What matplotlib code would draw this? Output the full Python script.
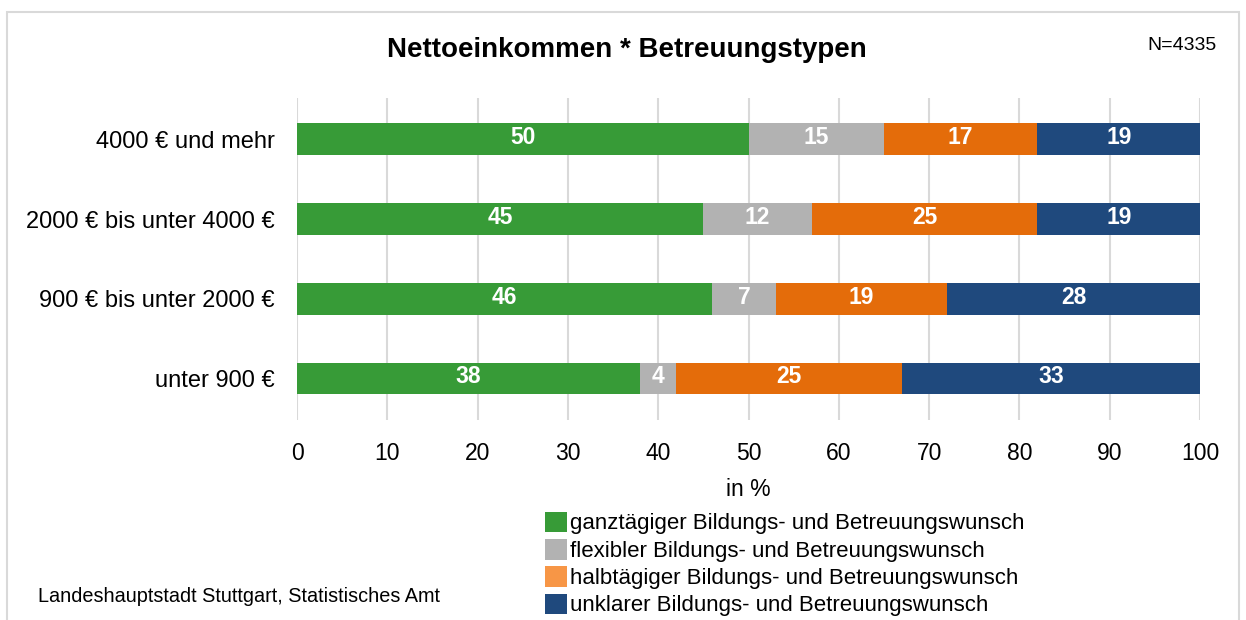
import numpy as np
import matplotlib.pyplot as plt
from matplotlib.patches import Rectangle, Patch

plt.rcParams['font.family'] = ['Liberation Sans', 'DejaVu Sans']

kategorien = ['unter 900 €', '900 € bis unter 2000 €', '2000 € bis unter 4000 €', '4000 € und mehr']
ganztaegig = [38, 46, 45, 50]
flexibel = [4, 7, 12, 15]
halbtaegig = [25, 19, 25, 17]
unklar = [33, 28, 19, 19]

serien = ['ganztägiger Bildungs- und Betreuungswunsch',
          'flexibler Bildungs- und Betreuungswunsch',
          'halbtägiger Bildungs- und Betreuungswunsch',
          'unklarer Bildungs- und Betreuungswunsch']
farben = ['#379B37', '#B2B2B2', '#E46C0A', '#1F497D']
legende_farben = ['#379B37', '#B2B2B2', '#F79646', '#1F497D']

fig = plt.figure(figsize=(12.46, 6.2), dpi=100)
ax = fig.add_axes([0.2384, 0.3226, 0.7247, 0.5194])

# grauer Rahmen
fig.patches.append(Rectangle((7/1246, -0.05), 1232/1246, 1 - 12/620 + 0.05,
                             transform=fig.transFigure, fill=False,
                             edgecolor='#D9D9D9', linewidth=1.5))

y = np.arange(len(kategorien))
links = np.zeros(len(kategorien))
for werte, farbe in zip([ganztaegig, flexibel, halbtaegig, unklar], farben):
    werte = np.array(werte)
    ax.barh(y, werte, left=links, height=0.4, color=farbe, zorder=3)
    for yi, l, w in zip(y, links, werte):
        ax.text(min(l + w / 2, (l + 100) / 2), yi + 0.02, str(w), ha='center', va='center',
                color='white', fontsize=16.5, fontweight='bold', zorder=4)
    links = links + werte

ax.set_xlim(0, 100)
ax.set_ylim(-0.52, 3.52)
ax.set_xticks(np.arange(0, 101, 10))
ax.set_yticks(y)
ax.set_yticklabels(kategorien)
ax.tick_params(axis='both', length=0, labelsize=16.5)
ax.tick_params(axis='y', labelsize=17)
ax.tick_params(axis='x', pad=16)
ax.tick_params(axis='y', pad=16)
ax.grid(axis='x', color='#D9D9D9', linewidth=1.5, zorder=0)
for s in ax.spines.values():
    s.set_visible(False)
ax.set_xlabel('in %', fontsize=16.5, labelpad=9)

fig.text(627/1246, 1 - 50/620, 'Nettoeinkommen * Betreuungstypen', ha='center', va='center',
         fontsize=20, fontweight='bold')
fig.text(1217/1246, 1 - 45/620, 'N=4335', ha='right', va='center', fontsize=14)
fig.text(38/1246, 1 - 596/620, 'Landeshauptstadt Stuttgart, Statistisches Amt',
         ha='left', va='center', fontsize=14.3)

handles = [Patch(facecolor=c, edgecolor='none') for c in legende_farben]
fig.legend(handles, serien, loc='upper left', bbox_to_anchor=(529/1246, 1 - 496/620),
           frameon=False, fontsize=16, handlelength=1.0, handleheight=1.05,
           handletextpad=0.15, labelspacing=0.2, borderpad=0.2)

fig.savefig('out.png', dpi=100)
